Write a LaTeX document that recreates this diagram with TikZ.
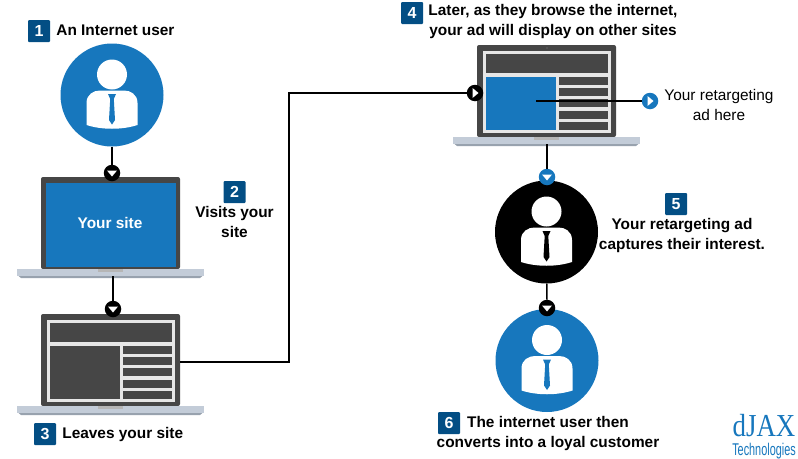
\documentclass[tikz,border=0pt]{standalone}
\usepackage{fontspec}
\setmainfont{Liberation Sans}
\newfontfamily\logofont{Liberation Serif}
\usetikzlibrary{positioning}
\definecolor{adblue}{HTML}{1777BD}
\definecolor{badgeblue}{HTML}{034E84}
\definecolor{framegray}{HTML}{464646}
\definecolor{panelgray}{HTML}{E6E6E6}
\definecolor{basegray}{HTML}{C3CCD8}
\definecolor{baseshade}{HTML}{98A2AE}
\tikzset{
  circ/.style={circle,fill=#1,minimum size=103pt,inner sep=0pt},
  marker/.style={circle,fill=#1,minimum size=16.5pt,inner sep=0pt},
  badge/.style={fill=badgeblue,text=white,rounded corners=1pt,minimum size=22pt,inner sep=0pt,font=\bfseries\fontsize{16}{18}\selectfont},
  lbl/.style={font=\bfseries\fontsize{15.4}{20}\selectfont,align=center,inner sep=0pt},
  lblplain/.style={font=\fontsize{15.4}{20}\selectfont,align=center,inner sep=0pt},
  link/.style={draw=black,line width=1.6pt},
  pics/person/.style={code={
    \fill[white] (0,-20.5) circle (15);
    \fill[white] (-25.5,30) -- (-25.5,8) .. controls (-25.5,-1) and (-18,-4.5) .. (-12,-4.5) -- (12,-4.5) .. controls (18,-4.5) and (25.5,-1) .. (25.5,8) -- (25.5,30) .. controls (10,35) and (-10,35) .. cycle;
    \fill[#1] (-4,-1) -- (4,-1) -- (1.8,4) -- (3,25) -- (0,29.5) -- (-3,25) -- (-1.8,4) -- cycle;
  }},
  pics/laptop/.style={code={
    \node[fill=framegray,rounded corners=2pt,minimum width=139pt,minimum height=92pt,inner sep=0pt] (-frame) at (69.5,46) {};
    \fill[baseshade,rounded corners=2pt] (-24,92) -- (163,92) -- (161,101) -- (-22,101) -- cycle;
    \node[fill=basegray,minimum width=187pt,minimum height=7pt,inner sep=0pt] (-base) at (69.5,95.5) {};
    \fill[lightgray!85!gray] (57,92) rectangle (82,95);
  }},
  pics/webpage/.style={code={
    \fill[panelgray] (6,6) rectangle (134,88);
    \fill[framegray] (9,9) rectangle (131,28);
    \fill[#1] (9,32) rectangle (79,85);
    \foreach \yy in {32,43,54,66,77}
      \fill[framegray] (82,\yy) rectangle (131,\yy+8);
  }},
  pics/tridown/.style={code={\fill[white] (-5,-2.5) -- (5,-2.5) -- (0,3.5) -- cycle;}},
  pics/triright/.style={code={\fill[white] (-2.5,-5) -- (-2.5,5) -- (3.5,0) -- cycle;}},
}
\begin{document}
\begin{tikzpicture}[x=1pt,y=-1pt]
  \useasboundingbox (0,0) rectangle (798,458);
  % people
  \node[circ=adblue] (user1) at (112,95) {};
  \pic at (user1) {person=adblue};
  \node[circ=black] (user5) at (546.5,232) {};
  \pic at (user5) {person=black};
  \node[circ=adblue] (user6) at (547,360.5) {};
  \pic at (user6) {person=adblue};
  % laptops
  \pic (lap1) at (41,177) {laptop};
  \fill[adblue] (46,183) rectangle (176,267);
  \pic (lap2) at (41,314) {laptop};
  \pic at (41,314) {webpage=framegray};
  \pic (lap3) at (477,45) {laptop};
  \pic at (477,45) {webpage=adblue};
  \fill[gray] (547,48) circle (0.7);
  \node[font=\bfseries\fontsize{15.4}{18}\selectfont,text=white,inner sep=0pt] (sitelbl) at (110,223) {Your site};
  % markers
  \foreach \nm/\pos/\col in {m1/{112,173}/black,m2/{113,309}/black,m3/{475,93}/black,m4/{650,101}/adblue,m5/{547,177}/adblue,m6/{547,308}/black}{
    \node[marker=\col] (\nm) at (\pos) {};
  }
  \foreach \nm in {m1,m2,m5,m6}{\pic at (\nm) {tridown};}
  \foreach \nm in {m3,m4}{\pic at (\nm) {triright};}
  % connectors
  \coordinate (bend) at (289,362);
  \coordinate (adstart) at (536,101);
  \draw[link] (user1) -- (m1);
  \draw[link] (lap1-base.south -| m2) -- (m2);
  \draw[link] ([yshift=-2pt]lap2-frame.east) -- (bend) |- (m3);
  \draw[link] (adstart) -- (m4);
  \draw[link] (lap3-base.south -| m5) -- (m5);
  \draw[link] (user5) -- (m6);
  % steps
  \node[badge] (b1) at (39,31) {1};
  \node[lbl,right=6pt of b1,yshift=0.5pt] (t1) {An Internet user};
  \node[badge] (b2) at (234.5,192) {2};
  \node[lbl,below=3pt of b2] (t2) {Visits your\\site};
  \node[badge] (b3) at (45,434) {3};
  \node[lbl,right=6pt of b3,yshift=-0.5pt] (t3) {Leaves your site};
  \node[badge] (b4) at (412,13) {4};
  \node[lbl] (t4) at (553,22) {Later, as they browse the internet,\\your ad will display on other sites};
  \node[lblplain] (t4b) at (719,105) {Your retargeting\\ad here};
  \node[badge] (b5) at (676,204) {5};
  \node[lbl] (t5) at (682,236) {Your retargeting ad\\captures their interest.};
  \node[badge] (b6) at (449,423) {6};
  \node[lbl] (t6) at (548,434) {The internet user then\\converts into a loyal customer};
  % logo
  \node[text=adblue,inner sep=0pt,font=\fontsize{32}{32}\selectfont\logofont] (logo) at (764,426) {\scalebox{0.84}[1]{dJAX}};
  \node[text=adblue,inner sep=0pt,font=\fontsize{17}{17}\selectfont] (logosub) at (764,451) {\scalebox{0.64}[1]{Technologies}};
\end{tikzpicture}
\end{document}
